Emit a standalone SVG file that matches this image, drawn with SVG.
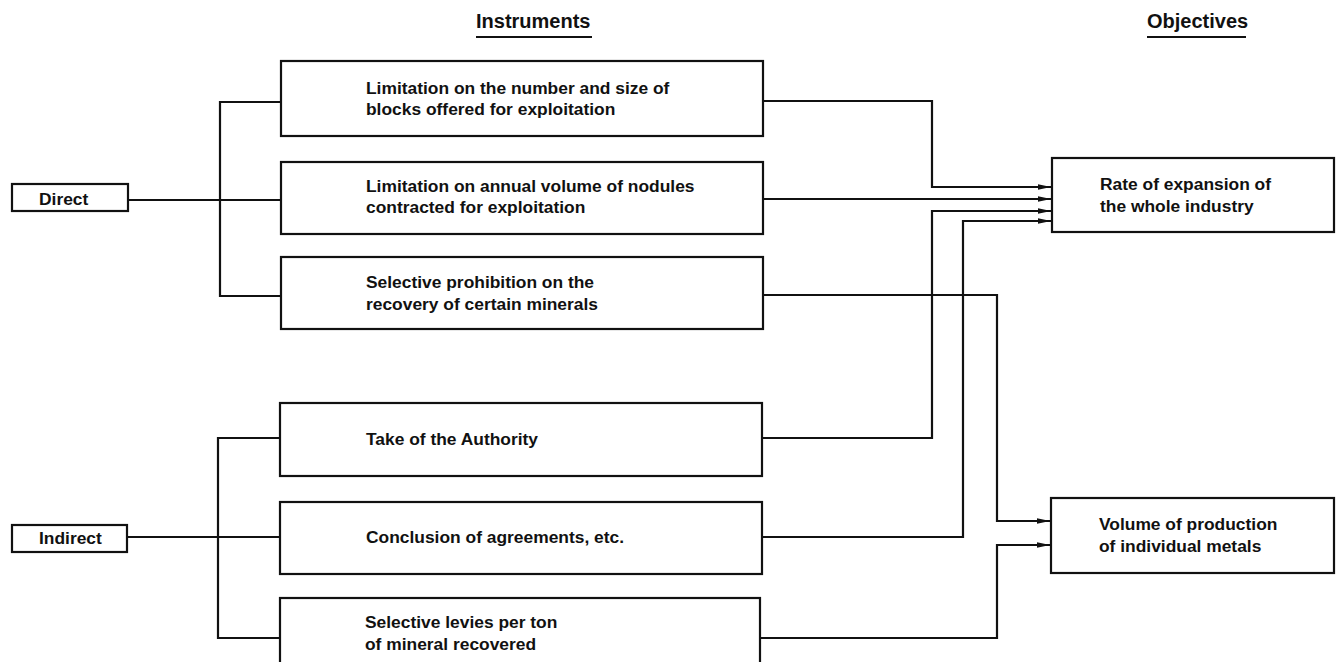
<svg xmlns="http://www.w3.org/2000/svg" width="1338" height="662" viewBox="0 0 1338 662">
<style>
.box{fill:#fff;stroke:#111;stroke-width:2.2}
.t{font-family:"Liberation Sans",Arial,sans-serif;font-weight:bold;font-size:17.4px;fill:#111}
.h{font-family:"Liberation Sans",Arial,sans-serif;font-weight:bold;font-size:20px;fill:#111}
.c{fill:none;stroke:#111;stroke-width:2.2}
.a{fill:none;stroke:#111;stroke-width:2.2;marker-end:url(#ah)}
</style>
<defs>
<marker id="ah" markerUnits="userSpaceOnUse" markerWidth="14" markerHeight="8" refX="13" refY="4" orient="auto">
<path d="M0,1.3 L13,4 L0,6.7 z" fill="#111"/>
</marker>
</defs>
<rect width="1338" height="662" fill="#fff"/>
<g id="headings">
<text class="h" x="476" y="28">Instruments</text>
<line x1="476" y1="37" x2="592" y2="37" stroke="#111" stroke-width="2"/>
<text class="h" x="1147" y="28">Objectives</text>
<line x1="1147" y1="37" x2="1246" y2="37" stroke="#111" stroke-width="2"/>
</g>
<g id="connectors">
<path class="c" d="M128,200 H281"/>
<path class="c" d="M281,102 H220 V296 H281"/>
<path class="c" d="M127,537 H280"/>
<path class="c" d="M280,438 H218 V638 H280"/>
<path class="a" d="M763,101 H932 V187 H1051"/>
<path class="a" d="M763,199 H1051"/>
<path class="a" d="M762,438 H932 V211 H1051"/>
<path class="a" d="M762,537 H963 V221 H1051"/>
<path class="a" d="M763,295 H997 V521 H1050"/>
<path class="a" d="M760,638 H997 V545 H1050"/>
</g>
<g id="direct">
<rect class="box" x="12" y="184" width="116" height="27"/>
<text class="t" x="39" y="205">Direct</text>
</g>
<g id="indirect">
<rect class="box" x="12" y="525" width="115" height="27"/>
<text class="t" x="39" y="544">Indirect</text>
</g>
<g id="i1">
<rect class="box" x="281" y="61" width="482" height="75"/>
<text class="t" x="366" y="94">Limitation on the number and size of</text>
<text class="t" x="366" y="115">blocks offered for exploitation</text>
</g>
<g id="i2">
<rect class="box" x="281" y="162" width="482" height="72"/>
<text class="t" x="366" y="192">Limitation on annual volume of nodules</text>
<text class="t" x="366" y="213">contracted for exploitation</text>
</g>
<g id="i3">
<rect class="box" x="281" y="257" width="482" height="72"/>
<text class="t" x="366" y="288">Selective prohibition on the</text>
<text class="t" x="366" y="310">recovery of certain minerals</text>
</g>
<g id="i4">
<rect class="box" x="280" y="403" width="482" height="73"/>
<text class="t" x="366" y="445">Take of the Authority</text>
</g>
<g id="i5">
<rect class="box" x="280" y="502" width="482" height="72"/>
<text class="t" x="366" y="543">Conclusion of agreements, etc.</text>
</g>
<g id="i6">
<rect class="box" x="280" y="598" width="480" height="90"/>
<text class="t" x="365" y="628">Selective levies per ton</text>
<text class="t" x="365" y="650">of mineral recovered</text>
</g>
<g id="o1">
<rect class="box" x="1052" y="158" width="282" height="74"/>
<text class="t" x="1100" y="190">Rate of expansion of</text>
<text class="t" x="1100" y="212">the whole industry</text>
</g>
<g id="o2">
<rect class="box" x="1051" y="498" width="283" height="75"/>
<text class="t" x="1099" y="530">Volume of production</text>
<text class="t" x="1099" y="552">of individual metals</text>
</g>
</svg>
